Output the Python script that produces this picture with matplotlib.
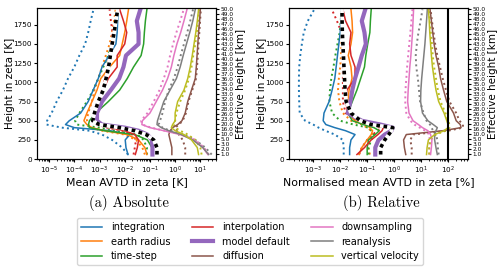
import numpy as np
import matplotlib
matplotlib.use('Agg')
import matplotlib.pyplot as plt

# zeta levels [K] at which the profiles were read
heights = [60, 150, 250, 320, 370, 410, 450, 500, 600, 750, 900, 1050, 1200, 1350, 1500, 1650, 1800, 1950]

# effective height labels on the right axis [km]
eff_heights = [1, 2, 3, 5, 10, 16, 20, 23, 26, 28, 30, 32, 33, 34, 35, 36, 37, 38, 39, 40,
               41, 42, 43, 44, 45, 46, 47, 48, 49, 50]

abs_integration = [-1.87, -1.95, -1.98, -1.8, -2.58, -4.0, -4.35, -4.2, -3.75, -3.45, -3.25, -3.05, -2.9, -2.62, -2.35, -2.3, -2.28, -2.25]
abs_integration_dot = [-1.87, -2.1, -2.5, -2.9, -3.4, -4.5, -5.1, -5.08, -4.9, -4.7, -4.45, -4.25, -4.0, -3.8, -3.57, -3.45, -3.35, -3.24]
abs_earth = [-1.12, -1.2, -1.45, -1.9, -2.8, -3.3, -3.5, -3.62, -3.5, -3.3, -3.1, -2.95, -2.6, -2.2, -2.1, -2.0, -1.92, -1.85]
abs_earth_dot = [-1.2, -1.3, -1.55, -2.0, -2.9, -3.35, -3.45, -3.5, -3.45, -3.3, -3.2, -3.05, -2.9, -2.75, -2.6, -2.5, -2.42, -2.36]
abs_timestep = [-0.92, -0.92, -1.1, -1.6, -2.8, -3.4, -3.44, -3.4, -3.15, -2.65, -2.2, -1.9, -1.65, -1.35, -1.25, -1.22, -1.18, -1.12]
abs_timestep_dot = [-1.12, -1.12, -1.25, -1.5, -2.4, -3.0, -3.9, -3.97, -3.8, -3.5, -3.25, -3.05, -2.85, -2.65, -2.51, -2.42, -2.35, -2.3]
abs_interp = [-1.58, -1.5, -1.45, -1.6, -2.0, -2.6, -3.0, -3.15, -3.15, -3.0, -2.85, -2.65, -2.3, -2.3, -2.0, -1.92, -2.05, -2.2]
abs_interp_dot = [-1.65, -1.6, -1.55, -1.7, -2.1, -2.7, -3.1, -3.2, -3.2, -3.05, -2.9, -2.78, -2.68, -2.6, -2.52, -2.48, -2.55, -2.6]
abs_default = [-0.9, -0.9, -0.92, -1.1, -1.45, -2.0, -2.9, -3.1, -3.1, -2.9, -2.55, -2.22, -2.05, -1.95, -1.45, -1.45, -1.52, -1.38]
abs_diffusion = [-0.13, -0.13, -0.2, -0.25, -0.2, -0.1, 0.1, 0.27, 0.4, 0.5, 0.65, 0.8, 0.84, 0.87, 0.9, 0.93, 0.97, 1.0]
abs_diffusion_dot = [0.4, 0.4, 0.3, 0.15, 0.1, 0.0, 0.15, 0.3, 0.43, 0.53, 0.68, 0.83, 0.87, 0.9, 0.93, 0.96, 0.99, 1.02]
abs_downsampling = [1.3, 1.1, 0.75, 0.2, -0.45, -1.0, -1.32, -1.3, -1.0, -0.75, -0.5, -0.3, -0.15, -0.05, 0.07, 0.22, 0.35, 0.47]
abs_downsampling_dot = [1.33, 1.15, 0.8, 0.25, -0.4, -0.95, -1.3, -1.35, -1.1, -0.85, -0.62, -0.45, -0.3, -0.2, -0.08, 0.05, 0.2, 0.34]
abs_reanalysis = [1.33, 1.1, 0.7, 0.25, -0.25, -0.55, -0.72, -0.7, -0.6, -0.45, -0.2, 0.05, 0.2, 0.32, 0.45, 0.58, 0.7, 0.8]
abs_reanalysis_dot = [1.45, 1.2, 0.8, 0.35, -0.2, -0.5, -0.65, -0.6, -0.5, -0.4, -0.25, -0.05, 0.1, 0.22, 0.35, 0.48, 0.6, 0.71]
abs_vertical = [0.93, 0.88, 0.65, 0.35, 0.0, -0.15, -0.1, 0.0, 0.0, 0.1, 0.35, 0.5, 0.6, 0.68, 0.75, 0.82, 0.88, 0.93]
abs_vertical_dot = [1.05, 1.0, 0.8, 0.5, 0.2, 0.0, -0.05, 0.0, 0.05, 0.2, 0.4, 0.55, 0.65, 0.72, 0.8, 0.86, 0.91, 0.95]
abs_reference = [-0.72, -0.72, -0.85, -1.15, -1.6, -2.2, -3.0, -3.27, -3.2, -3.05, -2.85, -2.74, -2.64, -2.57, -2.5, -2.42, -2.35, -2.28]

rel_integration = [-1.65, -1.65, -1.6, -1.45, -1.8, -2.2, -2.53, -2.63, -2.6, -2.41, -2.3, -2.2, -2.15, -2.1, -2.05, -2.0, -1.97, -1.95]
rel_integration_dot = [-1.87, -1.87, -1.9, -2.2, -2.55, -2.8, -3.0, -3.3, -3.5, -3.52, -3.53, -3.53, -3.52, -3.48, -3.42, -3.35, -3.2, -2.96]
rel_earth = [-1.3, -1.2, -1.0, -0.85, -0.8, -0.9, -1.05, -1.45, -1.75, -1.72, -1.67, -1.56, -1.6, -1.7, -1.6, -1.54, -1.56, -1.6]
rel_earth_dot = [-0.9, -0.95, -0.9, -0.8, -0.85, -1.0, -1.2, -1.6, -1.9, -2.03, -2.08, -2.05, -2.0, -1.97, -1.95, -1.95, -1.95, -1.95]
rel_timestep = [-1.0, -1.0, -0.95, -0.7, -0.55, -0.75, -1.14, -1.55, -1.72, -1.55, -1.38, -1.24, -1.1, -1.05, -0.98, -0.9, -0.88, -0.85]
rel_timestep_dot = [-0.95, -0.95, -0.85, -0.74, -0.85, -0.95, -1.5, -2.0, -2.3, -2.4, -2.38, -2.33, -2.25, -2.18, -2.1, -2.02, -1.98, -1.95]
rel_interp = [-1.38, -1.1, -0.85, -0.6, -0.45, -0.4, -0.9, -1.3, -1.7, -1.8, -1.75, -1.45, -1.45, -1.6, -1.65, -1.6, -1.8, -1.9]
rel_interp_dot = [-1.3, -1.2, -1.0, -0.8, -0.6, -0.5, -1.0, -1.4, -1.8, -1.9, -1.9, -1.9, -1.9, -1.9, -1.92, -1.95, -2.12, -2.31]
rel_default = [-0.7, -0.7, -0.58, -0.35, -0.1, -0.05, -0.5, -1.2, -1.72, -1.62, -1.55, -1.45, -1.32, -1.2, -1.05, -1.1, -1.2, -1.07]
rel_diffusion = [0.43, 0.38, 0.35, 0.45, 1.8, 2.48, 2.45, 2.3, 2.2, 1.95, 1.83, 1.72, 1.65, 1.55, 1.48, 1.43, 1.38, 1.33]
rel_diffusion_dot = [0.65, 0.65, 0.6, 0.7, 2.0, 2.55, 2.55, 2.42, 2.3, 2.05, 1.92, 1.8, 1.7, 1.6, 1.52, 1.46, 1.4, 1.35]
rel_downsampling = [1.35, 1.38, 1.4, 1.35, 1.25, 1.05, 0.9, 0.7, 0.55, 0.5, 0.52, 0.55, 0.58, 0.62, 0.65, 0.68, 0.7, 0.72]
rel_downsampling_dot = [1.3, 1.3, 1.32, 1.3, 1.15, 0.95, 0.75, 0.6, 0.45, 0.41, 0.42, 0.45, 0.48, 0.52, 0.56, 0.6, 0.64, 0.68]
rel_reanalysis = [1.6, 1.55, 1.5, 1.5, 1.55, 1.6, 1.45, 1.25, 1.05, 0.98, 0.99, 1.02, 1.06, 1.1, 1.14, 1.17, 1.2, 1.23]
rel_reanalysis_dot = [1.65, 1.62, 1.6, 1.55, 1.45, 1.38, 1.33, 1.2, 1.09, 0.96, 0.92, 0.88, 0.82, 0.8, 0.84, 0.9, 0.98, 1.05]
rel_vertical = [1.2, 1.22, 1.27, 1.5, 1.85, 2.0, 2.0, 1.95, 1.85, 1.65, 1.55, 1.48, 1.42, 1.38, 1.35, 1.32, 1.3, 1.27]
rel_vertical_dot = [1.3, 1.3, 1.35, 1.55, 1.9, 2.05, 2.05, 2.0, 1.9, 1.72, 1.62, 1.55, 1.48, 1.43, 1.4, 1.36, 1.32, 1.3]
rel_reference = [-0.5, -0.5, -0.35, -0.2, -0.1, -0.05, -0.85, -1.25, -1.6, -1.78, -1.82, -1.84, -1.86, -1.88, -1.9, -1.92, -1.93, -1.93]

labels = ['integration', 'earth radius', 'time-step', 'interpolation', 'model default',
          'diffusion', 'downsampling', 'reanalysis', 'vertical velocity']
colors = ['C0', 'C1', 'C2', 'C3', 'C4', 'C5', 'C6', 'C7', 'C8']

abs_solid = [abs_integration, abs_earth, abs_timestep, abs_interp, abs_default,
             abs_diffusion, abs_downsampling, abs_reanalysis, abs_vertical]
abs_dotted = [abs_integration_dot, abs_earth_dot, abs_timestep_dot, abs_interp_dot, None,
              abs_diffusion_dot, abs_downsampling_dot, abs_reanalysis_dot, abs_vertical_dot]
rel_solid = [rel_integration, rel_earth, rel_timestep, rel_interp, rel_default,
             rel_diffusion, rel_downsampling, rel_reanalysis, rel_vertical]
rel_dotted = [rel_integration_dot, rel_earth_dot, rel_timestep_dot, rel_interp_dot, None,
              rel_diffusion_dot, rel_downsampling_dot, rel_reanalysis_dot, rel_vertical_dot]


def plot_panel(ax, solid, dotted, reference, xlim, xlabel):
    h = np.array(heights)
    for lab, c, s, d in zip(labels, colors, solid, dotted):
        if d is not None:
            ax.plot(10 ** np.array(d), h, color=c, ls=':', lw=1.4)
    for lab, c, s, d in zip(labels, colors, solid, dotted):
        lw = 3.0 if lab == 'model default' else 1.1
        ax.plot(10 ** np.array(s), h, color=c, lw=lw, label=lab)
    ref = 10 ** np.array(reference)
    ax.plot(ref, h, color='white', lw=2.6)
    ax.plot(ref, h, color='black', lw=2.6, dashes=(1.0, 1.0))
    ax.set_xscale('log')
    # one major tick per decade, only inside the visible range
    decades = np.arange(np.ceil(np.log10(xlim[0])), np.floor(np.log10(xlim[1])) + 1)
    ax.set_xticks(10.0 ** decades)
    ax.set_xlim(*xlim)
    ax.set_ylim(0, 1970)
    ax.set_yticks(np.arange(0, 1751, 250))
    ax.set_xlabel(xlabel, fontsize=7.8, labelpad=1)
    ax.set_ylabel('Height in zeta [K]', fontsize=7.5)
    ax.yaxis.set_label_coords(-0.125, 0.5)
    ax.tick_params(labelsize=5.2, length=2.5, pad=1.5)
    ax.tick_params(which='minor', length=1.5)

    ax2 = ax.twinx()
    ax2.set_ylim(ax.get_ylim())
    ax2.set_yticks(np.linspace(65, 1950, len(eff_heights)))
    ax2.set_yticklabels(['%.1f' % v for v in eff_heights])
    ax2.tick_params(labelsize=4.2, length=2, pad=1)
    ax2.set_ylabel('Effective height [km]', fontsize=7.5, labelpad=2)


fig = plt.figure(figsize=(5.0, 2.72), dpi=100)
ax_a = fig.add_axes([0.0746, 0.415, 0.358, 0.556])
ax_b = fig.add_axes([0.5786, 0.415, 0.358, 0.556])

plot_panel(ax_a, abs_solid, abs_dotted, abs_reference, (3.4e-6, 43), 'Mean AVTD in zeta [K]')
plot_panel(ax_b, rel_solid, rel_dotted, rel_reference, (1.3e-4, 560), 'Normalised mean AVTD in zeta [%]')
ax_b.axvline(100, color='black', lw=1.5)

fig.text(0.258, 0.255, '(a) Absolute', fontfamily='cmr10', fontsize=10.5, ha='center', va='center')
fig.text(0.762, 0.255, '(b) Relative', fontfamily='cmr10', fontsize=10.5, ha='center', va='center')

handles, labs = ax_a.get_legend_handles_labels()
fig.legend(handles, labs, loc='center', bbox_to_anchor=(0.5, 0.112), ncol=3, fontsize=7,
           handlelength=2.2, columnspacing=2.2, labelspacing=0.45, borderpad=0.4,
           handletextpad=0.9, frameon=True)

fig.savefig('out.png', dpi=100)
